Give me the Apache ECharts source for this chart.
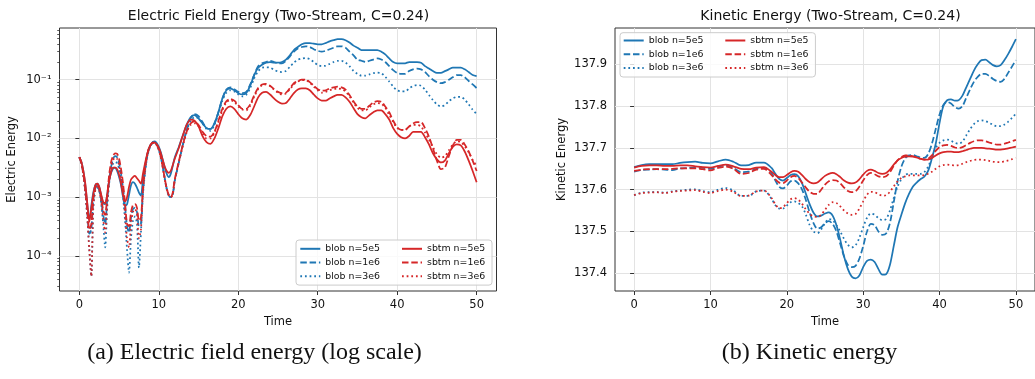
<!DOCTYPE html>
<html><head><meta charset="utf-8">
<script src="https://cdn.jsdelivr.net/npm/echarts@6/dist/echarts.min.js"></script>
<style>html,body{margin:0;padding:0;background:#fff}#c{width:1035px;height:379px}</style>
</head><body><div id="c"></div>
<script>
// ---------- Electric field energy (log scale) ----------
const timeE = [0,0.25,0.5,0.75,1,1.25,1.5,1.75,2,2.25,2.5,2.75,3,3.25,3.5,3.75,4,4.25,4.5,4.75,5,5.25,5.5,5.75,6,6.25,6.5,6.75,7,7.25,7.5,7.75,8,8.25,8.5,8.75,9,9.25,9.5,9.75,10,10.25,10.5,10.75,11,11.25,11.5,11.75,12,
12.5,13,13.5,14,14.5,15,15.5,16,16.5,17,17.5,18,18.5,19,19.5,20,20.5,21,21.5,22,22.5,23,23.5,24,24.5,25,25.5,26,26.5,27,27.5,28,28.5,29,29.5,30,30.5,31,31.5,32,32.5,33,33.5,34,34.5,35,35.5,36,36.5,37,37.5,38,38.5,39,39.5,40,40.5,41,41.5,42,42.5,43,43.5,44,44.5,45,45.5,46,46.5,47,47.5,48,48.5,49,49.5,50];

const blob5e5E = [4.8e-3,4.0e-3,2.8e-3,1.6e-3,7.6e-4,4.0e-4,7.1e-4,1.2e-3,1.6e-3,1.7e-3,1.5e-3,1.07e-3,7.9e-4,7.6e-4,1.1e-3,1.9e-3,2.6e-3,3.1e-3,3.2e-3,2.8e-3,2.2e-3,1.6e-3,1.0e-3,7.1e-4,7.6e-4,1.1e-3,1.6e-3,1.8e-3,1.7e-3,1.45e-3,1.2e-3,1.07e-3,2.0e-3,3.3e-3,5.0e-3,6.6e-3,7.9e-3,8.7e-3,8.9e-3,8.3e-3,7.2e-3,5.8e-3,4.3e-3,3.2e-3,2.5e-3,2.2e-3,2.5e-3,3.4e-3,4.7e-3,
7.1e-3,1.1e-2,1.7e-2,2.3e-2,2.5e-2,2.2e-2,1.8e-2,1.5e-2,1.45e-2,1.8e-2,2.8e-2,4.8e-2,6.6e-2,7.1e-2,6.6e-2,5.9e-2,5.6e-2,5.9e-2,7.9e-2,0.12,0.16,0.18,0.195,0.2,0.195,0.195,0.2,0.22,0.26,0.32,0.36,0.40,0.42,0.42,0.41,0.40,0.40,0.42,0.45,0.47,0.49,0.49,0.47,0.43,0.38,0.35,0.32,0.32,0.32,0.32,0.32,0.30,0.27,0.23,0.20,0.19,0.19,0.19,0.20,0.20,0.20,0.195,0.17,0.155,0.14,0.13,0.13,0.14,0.15,0.16,0.16,0.16,0.15,0.135,0.12,0.115];

const blob1e6E = [4.8e-3,3.8e-3,2.5e-3,1.3e-3,5.6e-4,2.4e-4,2.8e-4,8.9e-4,1.4e-3,1.6e-3,1.3e-3,8.9e-4,5.0e-4,3.5e-4,8.9e-4,2.0e-3,3.3e-3,4.5e-3,5.0e-3,4.8e-3,3.8e-3,2.5e-3,1.4e-3,7.1e-4,3.2e-4,2.5e-4,4.5e-4,6.3e-4,6.6e-4,5.6e-4,3.2e-4,3.5e-4,1.3e-3,2.8e-3,4.8e-3,6.6e-3,7.9e-3,8.7e-3,8.7e-3,7.9e-3,6.6e-3,5.0e-3,3.3e-3,2.1e-3,1.4e-3,1.07e-3,1.0e-3,1.1e-3,1.9e-3,
3.8e-3,7.6e-3,1.4e-2,2.2e-2,2.6e-2,2.4e-2,1.9e-2,1.5e-2,1.45e-2,1.8e-2,2.8e-2,4.8e-2,6.8e-2,7.4e-2,6.9e-2,6.2e-2,5.9e-2,6.2e-2,8.3e-2,0.12,0.17,0.19,0.20,0.21,0.20,0.19,0.19,0.21,0.25,0.30,0.34,0.36,0.37,0.36,0.33,0.31,0.30,0.31,0.33,0.35,0.37,0.37,0.35,0.30,0.26,0.22,0.21,0.20,0.21,0.22,0.23,0.22,0.20,0.17,0.145,0.13,0.126,0.126,0.14,0.15,0.155,0.15,0.135,0.115,0.10,9.1e-2,8.7e-2,9.1e-2,0.10,0.11,0.12,0.12,0.11,9.5e-2,8.3e-2,7.2e-2];

const blob3e6E = [4.8e-3,3.8e-3,2.4e-3,1.2e-3,4.5e-4,1.3e-4,4.5e-5,6.3e-4,1.3e-3,1.45e-3,1.3e-3,7.9e-4,3.5e-4,1.4e-4,6.3e-4,1.7e-3,2.8e-3,3.7e-3,4.0e-3,3.8e-3,3.0e-3,1.9e-3,1.0e-3,4.0e-4,1.3e-4,5.2e-5,2.0e-4,4.0e-4,4.7e-4,3.5e-4,6.3e-5,2.5e-4,1.1e-3,2.5e-3,4.5e-3,6.3e-3,7.6e-3,8.3e-3,8.3e-3,7.6e-3,6.3e-3,4.8e-3,3.2e-3,2.0e-3,1.35e-3,1.07e-3,1.0e-3,1.1e-3,1.9e-3,
3.8e-3,7.6e-3,1.35e-2,2.0e-2,2.3e-2,2.2e-2,1.8e-2,1.45e-2,1.35e-2,1.7e-2,2.6e-2,4.4e-2,6.0e-2,6.6e-2,6.3e-2,5.6e-2,5.2e-2,5.5e-2,7.2e-2,0.105,0.14,0.16,0.162,0.16,0.148,0.138,0.135,0.141,0.166,0.195,0.219,0.229,0.234,0.224,0.2,0.178,0.17,0.174,0.186,0.2,0.209,0.209,0.195,0.17,0.141,0.126,0.117,0.117,0.123,0.129,0.132,0.129,0.112,9.3e-2,7.6e-2,6.6e-2,6.3e-2,6.3e-2,7.1e-2,7.8e-2,8.1e-2,7.9e-2,6.8e-2,5.5e-2,4.5e-2,3.8e-2,3.5e-2,3.7e-2,4.3e-2,4.8e-2,5.1e-2,5.1e-2,4.6e-2,3.8e-2,3.1e-2,2.6e-2];

const sbtm5e5E = [4.8e-3,4.0e-3,2.8e-3,1.7e-3,7.9e-4,3.8e-4,6.3e-4,1.1e-3,1.6e-3,1.7e-3,1.5e-3,1.1e-3,8.3e-4,7.9e-4,1.1e-3,1.9e-3,2.7e-3,3.2e-3,3.2e-3,3.0e-3,2.4e-3,1.7e-3,1.1e-3,8.5e-4,1.0e-3,1.5e-3,2.0e-3,2.2e-3,2.3e-3,2.1e-3,1.9e-3,1.7e-3,2.5e-3,3.7e-3,5.2e-3,6.8e-3,7.9e-3,8.5e-3,8.5e-3,7.9e-3,6.9e-3,5.6e-3,4.3e-3,3.3e-3,2.8e-3,2.6e-3,2.8e-3,3.5e-3,4.5e-3,
6.8e-3,1.1e-2,1.7e-2,2.1e-2,2.0e-2,1.6e-2,1.1e-2,8.7e-3,8.1e-3,1.0e-2,1.5e-2,2.4e-2,3.2e-2,3.5e-2,3.2e-2,2.6e-2,2.2e-2,2.1e-2,2.5e-2,3.5e-2,5.0e-2,6.0e-2,6.2e-2,5.6e-2,4.8e-2,4.2e-2,3.9e-2,4.0e-2,4.8e-2,5.9e-2,6.8e-2,7.1e-2,7.1e-2,6.6e-2,5.6e-2,4.8e-2,4.4e-2,4.4e-2,4.8e-2,5.2e-2,5.5e-2,5.5e-2,5.0e-2,4.2e-2,3.3e-2,2.6e-2,2.3e-2,2.2e-2,2.5e-2,2.8e-2,3.0e-2,3.0e-2,2.6e-2,2.1e-2,1.5e-2,1.2e-2,1.05e-2,1.0e-2,1.1e-2,1.3e-2,1.3e-2,1.3e-2,1.05e-2,7.9e-3,5.6e-3,4.4e-3,3.9e-3,4.2e-3,5.6e-3,7.2e-3,7.9e-3,7.6e-3,6.0e-3,4.2e-3,2.8e-3,1.8e-3];

const sbtm1e6E = [4.8e-3,3.8e-3,2.5e-3,1.35e-3,6.3e-4,2.8e-4,3.5e-4,9.5e-4,1.45e-3,1.7e-3,1.4e-3,1.0e-3,6.0e-4,5.0e-4,1.05e-3,2.4e-3,4.0e-3,5.1e-3,5.6e-3,5.5e-3,4.5e-3,3.0e-3,1.7e-3,7.9e-4,3.5e-4,3.2e-4,5.6e-4,7.4e-4,7.6e-4,6.6e-4,4.0e-4,4.5e-4,1.4e-3,3.0e-3,5.0e-3,6.8e-3,7.9e-3,8.5e-3,8.5e-3,7.8e-3,6.5e-3,4.9e-3,3.2e-3,2.1e-3,1.4e-3,1.1e-3,1.0e-3,1.2e-3,2.0e-3,
4.0e-3,7.6e-3,1.3e-2,1.8e-2,1.95e-2,1.7e-2,1.3e-2,1.1e-2,1.07e-2,1.3e-2,2.0e-2,3.2e-2,4.3e-2,4.7e-2,4.4e-2,3.7e-2,3.2e-2,3.2e-2,3.8e-2,5.4e-2,7.2e-2,8.3e-2,8.5e-2,7.9e-2,6.9e-2,6.2e-2,5.9e-2,6.0e-2,7.2e-2,8.7e-2,9.5e-2,0.10,0.10,9.1e-2,7.9e-2,6.9e-2,6.5e-2,6.6e-2,7.1e-2,7.4e-2,7.6e-2,7.4e-2,6.8e-2,5.5e-2,4.3e-2,3.5e-2,3.2e-2,3.2e-2,3.6e-2,4.1e-2,4.3e-2,4.2e-2,3.5e-2,2.8e-2,2.0e-2,1.55e-2,1.4e-2,1.4e-2,1.6e-2,1.8e-2,1.9e-2,1.9e-2,1.5e-2,1.07e-2,6.8e-3,4.2e-3,3.0e-3,3.2e-3,5.0e-3,7.6e-3,9.5e-3,9.5e-3,7.9e-3,6.0e-3,4.2e-3,2.8e-3];

const sbtm3e6E = [4.8e-3,3.8e-3,2.4e-3,1.2e-3,4.5e-4,1.3e-4,4.5e-5,7.1e-4,1.3e-3,1.5e-3,1.3e-3,8.3e-4,4.2e-4,2.5e-4,7.9e-4,2.0e-3,3.3e-3,4.3e-3,4.7e-3,4.5e-3,3.5e-3,2.2e-3,1.2e-3,5.0e-4,2.0e-4,1.4e-4,3.5e-4,5.6e-4,6.3e-4,5.0e-4,2.0e-4,2.8e-4,1.2e-3,2.7e-3,4.7e-3,6.5e-3,7.8e-3,8.3e-3,8.3e-3,7.6e-3,6.3e-3,4.8e-3,3.2e-3,2.0e-3,1.4e-3,1.07e-3,1.0e-3,1.1e-3,1.9e-3,
3.8e-3,7.2e-3,1.26e-2,1.7e-2,1.8e-2,1.6e-2,1.2e-2,1.0e-2,1.0e-2,1.26e-2,1.9e-2,3.0e-2,4.1e-2,4.5e-2,4.2e-2,3.5e-2,3.1e-2,3.0e-2,3.6e-2,5.1e-2,6.9e-2,8.1e-2,8.3e-2,7.8e-2,6.8e-2,6.0e-2,5.6e-2,5.8e-2,6.9e-2,8.3e-2,9.3e-2,9.8e-2,9.8e-2,8.9e-2,7.6e-2,6.6e-2,6.0e-2,6.2e-2,6.6e-2,6.9e-2,7.1e-2,6.9e-2,6.3e-2,5.2e-2,4.1e-2,3.3e-2,3.0e-2,3.0e-2,3.4e-2,3.8e-2,4.0e-2,3.9e-2,3.3e-2,2.5e-2,1.9e-2,1.5e-2,1.4e-2,1.4e-2,1.6e-2,1.7e-2,1.7e-2,1.6e-2,1.26e-2,9.5e-3,7.1e-3,5.4e-3,4.7e-3,5.0e-3,6.3e-3,7.9e-3,8.9e-3,8.7e-3,7.4e-3,5.8e-3,4.3e-3,3.4e-3];

// ---------- Kinetic energy ----------
const timeK = [0,1,2,3,4,5,6,7,8,9,10,11,12,13,14,15,16,17,18,
18.5,19,19.5,20,20.5,21,21.5,22,22.5,23,23.5,24,24.5,25,25.5,26,26.5,27,27.5,28,28.5,29,29.5,30,30.5,31,31.5,32,32.5,33,33.5,34,34.5,35,35.5,36,36.5,37,37.5,38,38.5,39,39.5,40,40.5,41,41.5,42,42.5,43,43.5,44,44.5,45,45.5,46,46.5,47,47.5,48,48.5,49,49.5,50];

const blob5e5K = [137.654,137.659,137.661,137.661,137.661,137.661,137.664,137.666,137.667,137.664,137.663,137.668,137.672,137.667,137.658,137.659,137.665,137.665,137.652,
137.638,137.626,137.622,137.628,137.635,137.637,137.632,137.615,137.59,137.565,137.545,137.536,137.538,137.543,137.546,137.538,137.515,137.48,137.44,137.41,137.392,137.388,137.395,137.415,137.43,137.433,137.427,137.41,137.397,137.398,137.42,137.465,137.51,137.54,137.568,137.59,137.607,137.617,137.625,137.631,137.645,137.675,137.71,137.76,137.8,137.814,137.816,137.813,137.814,137.825,137.845,137.865,137.885,137.9,137.91,137.911,137.905,137.898,137.895,137.898,137.91,137.925,137.942,137.96];

const blob1e6K = [137.643,137.647,137.648,137.649,137.648,137.647,137.651,137.652,137.653,137.652,137.65,137.655,137.658,137.652,137.642,137.643,137.65,137.652,137.64,
137.622,137.607,137.603,137.61,137.62,137.622,137.615,137.6,137.575,137.545,137.52,137.507,137.51,137.52,137.525,137.518,137.5,137.47,137.44,137.42,137.415,137.418,137.435,137.465,137.5,137.518,137.515,137.5,137.492,137.495,137.52,137.57,137.62,137.655,137.675,137.682,137.683,137.68,137.677,137.676,137.685,137.71,137.745,137.78,137.803,137.81,137.806,137.798,137.794,137.8,137.82,137.84,137.858,137.87,137.877,137.877,137.872,137.865,137.86,137.858,137.865,137.88,137.895,137.91];

const blob3e6K = [137.587,137.593,137.594,137.594,137.593,137.596,137.598,137.6,137.601,137.597,137.594,137.6,137.604,137.598,137.585,137.585,137.596,137.598,137.578,
137.563,137.555,137.555,137.562,137.57,137.572,137.568,137.56,137.54,137.515,137.5,137.496,137.505,137.52,137.53,137.527,137.515,137.5,137.482,137.468,137.462,137.467,137.485,137.51,137.533,137.543,137.54,137.532,137.527,137.53,137.55,137.58,137.607,137.625,137.635,137.638,137.638,137.638,137.638,137.642,137.655,137.678,137.7,137.712,137.718,137.72,137.717,137.712,137.71,137.715,137.73,137.745,137.757,137.764,137.766,137.764,137.76,137.755,137.752,137.752,137.756,137.763,137.772,137.782];

const sbtm5e5K = [137.653,137.657,137.658,137.658,137.657,137.657,137.658,137.658,137.656,137.654,137.653,137.657,137.66,137.656,137.65,137.649,137.653,137.654,137.643,
137.635,137.63,137.63,137.635,137.642,137.645,137.643,137.635,137.625,137.618,137.615,137.617,137.625,137.633,137.638,137.64,137.637,137.63,137.622,137.617,137.615,137.617,137.625,137.636,137.645,137.648,137.645,137.64,137.638,137.64,137.648,137.66,137.67,137.676,137.679,137.68,137.679,137.677,137.674,137.672,137.672,137.676,137.682,137.687,137.69,137.691,137.691,137.69,137.69,137.692,137.695,137.698,137.7,137.7,137.7,137.699,137.698,137.697,137.696,137.696,137.697,137.699,137.701,137.703];

const sbtm1e6K = [137.645,137.648,137.649,137.649,137.649,137.65,137.651,137.651,137.651,137.649,137.646,137.652,137.655,137.65,137.638,137.64,137.648,137.65,137.635,
137.625,137.617,137.616,137.622,137.63,137.633,137.628,137.617,137.605,137.595,137.59,137.59,137.6,137.612,137.62,137.623,137.622,137.615,137.605,137.597,137.594,137.596,137.607,137.622,137.635,137.64,137.637,137.632,137.63,137.632,137.642,137.657,137.67,137.678,137.682,137.682,137.68,137.677,137.674,137.672,137.674,137.682,137.693,137.702,137.706,137.707,137.705,137.701,137.7,137.702,137.707,137.712,137.716,137.718,137.718,137.716,137.713,137.71,137.708,137.708,137.71,137.713,137.716,137.719];

const sbtm3e6K = [137.587,137.592,137.593,137.594,137.592,137.595,137.597,137.598,137.599,137.595,137.592,137.597,137.6,137.595,137.585,137.586,137.596,137.598,137.58,
137.565,137.556,137.558,137.568,137.577,137.58,137.576,137.566,137.553,137.542,137.536,137.535,137.54,137.552,137.564,137.57,137.568,137.56,137.55,137.543,137.54,137.542,137.555,137.572,137.588,137.595,137.594,137.589,137.586,137.587,137.595,137.608,137.62,137.628,137.632,137.634,137.634,137.634,137.634,137.635,137.638,137.643,137.65,137.656,137.659,137.66,137.659,137.658,137.659,137.662,137.666,137.669,137.671,137.672,137.672,137.671,137.669,137.667,137.666,137.666,137.668,137.67,137.673,137.676];

// ---------- ticks / labels ----------
const xTicks = [0, 10, 20, 30, 40, 50];
const eTicks = [1e-4, 1e-3, 1e-2, 1e-1];
const eMinorTicks = [3e-5,4e-5,5e-5,6e-5,7e-5,8e-5,9e-5,2e-4,3e-4,4e-4,5e-4,6e-4,7e-4,8e-4,9e-4,2e-3,3e-3,4e-3,5e-3,6e-3,7e-3,8e-3,9e-3,2e-2,3e-2,4e-2,5e-2,6e-2,7e-2,8e-2,9e-2,0.2,0.3,0.4,0.5,0.6,0.7];
const kTicks = [137.4, 137.5, 137.6, 137.7, 137.8, 137.9];
const seriesNames = ['blob n=5e5','blob n=1e6','blob n=3e6','sbtm n=5e5','sbtm n=1e6','sbtm n=3e6'];
const titles = ['Electric Field Energy (Two-Stream, C=0.24)', 'Kinetic Energy (Two-Stream, C=0.24)'];
const captions = ['(a) Electric field energy (log scale)', '(b) Kinetic energy'];

// ---------- chart ----------
const FONT = 'DejaVu Sans';
const BLUE = '#1f77b4', RED = '#d62728';
const lineTypes = ['solid', [6.5, 2.8], [1.75, 2.9]];
const colors = [BLUE, BLUE, BLUE, RED, RED, RED];
const typesFor = [0, 1, 2, 0, 1, 2];
const eData = [blob5e5E, blob1e6E, blob3e6E, sbtm5e5E, sbtm1e6E, sbtm3e6E];
const kData = [blob5e5K, blob1e6K, blob3e6K, sbtm5e5K, sbtm1e6K, sbtm3e6K];
const pairs = (t, v) => t.map((x, i) => [x, v[i]]);

const SUP = {'-':'\u207b','0':'\u2070','1':'\u00b9','2':'\u00b2','3':'\u00b3','4':'\u2074','5':'\u2075','6':'\u2076','7':'\u2077','8':'\u2078','9':'\u2079'};
const supFmt = v => '10' + String(Math.round(Math.log10(v))).split('').map(c => SUP[c]).join('');

const frame = '#333333';
const gridLine = { show: true, lineStyle: { color: '#e3e3e3', width: 1 } };
const tickLbl = { fontFamily: FONT, fontSize: 11.5, color: '#111', margin: 8 };
const nameStyle = { fontFamily: FONT, fontSize: 11.5, color: '#111' };

function xAxisFor(gi) {
  return {
    type: 'value', gridIndex: gi, min: -2.5, max: 52.5,
    name: 'Time', nameLocation: 'middle', nameGap: 24, nameTextStyle: nameStyle,
    axisLine: { show: false },
    axisTick: { show: true, length: 4, customValues: xTicks, lineStyle: { color: frame, width: 1 } },
    axisLabel: Object.assign({ customValues: xTicks }, tickLbl),
    splitLine: gridLine
  };
}

const series = [];
seriesNames.forEach((n, i) => {
  series.push({
    name: n, type: 'line', xAxisIndex: 0, yAxisIndex: 0,
    data: pairs(timeE, eData[i]), showSymbol: false, symbol: 'none', smooth: 0.25,
    lineStyle: { color: colors[i], width: 1.75, type: lineTypes[typesFor[i]] },
    itemStyle: { color: colors[i] }, silent: true
  });
});
seriesNames.forEach((n, i) => {
  series.push({
    name: n, type: 'line', xAxisIndex: 1, yAxisIndex: 2,
    data: pairs(timeK, kData[i]), showSymbol: false, symbol: 'none', smooth: 0.3,
    lineStyle: { color: colors[i], width: 1.75, type: lineTypes[typesFor[i]] },
    itemStyle: { color: colors[i] }, silent: true
  });
});

const legendBase = {
  orient: 'vertical', itemGap: 4.7, itemWidth: 20, itemHeight: 9,
  textStyle: { fontFamily: FONT, fontSize: 9.4, color: '#111' },
  itemStyle: { opacity: 0 }, selectedMode: false
};
const boxStyle = { backgroundColor: 'rgba(255,255,255,0.8)', borderColor: '#cccccc', borderWidth: 1, borderRadius: 3 };

const titleStyle = { fontFamily: FONT, fontSize: 14, fontWeight: 'normal', color: '#111' };
const capStyle = { fontFamily: 'Liberation Serif', fontSize: 24, fontWeight: 'normal', color: '#111' };

const option = {
  animation: false,
  backgroundColor: '#ffffff',
  title: [
    { text: titles[0], left: 278.5, top: 16, textAlign: 'center', textVerticalAlign: 'middle', padding: 0, textStyle: titleStyle },
    { text: titles[1], left: 830.5, top: 16, textAlign: 'center', textVerticalAlign: 'middle', padding: 0, textStyle: titleStyle },
    { text: captions[0], left: 254.5, top: 353, textAlign: 'center', textVerticalAlign: 'middle', padding: 0, textStyle: capStyle },
    { text: captions[1], left: 809.5, top: 353, textAlign: 'center', textVerticalAlign: 'middle', padding: 0, textStyle: capStyle }
  ],
  grid: [
    { left: 59.5, top: 28, width: 437, height: 263, show: true, borderColor: frame, borderWidth: 1, backgroundColor: 'transparent' },
    { left: 615, top: 28, width: 431.6, height: 263, show: true, borderColor: frame, borderWidth: 1, backgroundColor: 'transparent' }
  ],
  xAxis: [xAxisFor(0), xAxisFor(1)],
  yAxis: [
    {
      type: 'log', logBase: 10, gridIndex: 0, min: 2.537e-5, max: 0.758, position: 'left',
      name: 'Electric Energy', nameLocation: 'middle', nameGap: 41, nameTextStyle: nameStyle,
      axisLine: { show: false },
      axisTick: { show: true, length: 4, customValues: eTicks, lineStyle: { color: frame, width: 1 } },
      axisLabel: Object.assign({ customValues: eTicks, formatter: supFmt }, tickLbl),
      splitLine: gridLine
    },
    {
      type: 'log', logBase: 10, gridIndex: 0, min: 2.537e-5, max: 0.758, position: 'left',
      axisLine: { show: false }, axisLabel: { show: false }, splitLine: { show: false },
      axisTick: { show: true, length: 2.3, customValues: eMinorTicks, lineStyle: { color: frame, width: 0.8 } }
    },
    {
      type: 'value', gridIndex: 1, min: 137.3577, max: 137.9868, position: 'left',
      name: 'Kinetic Energy', nameLocation: 'middle', nameGap: 47, nameTextStyle: nameStyle,
      axisLine: { show: false },
      axisTick: { show: true, length: 4, customValues: kTicks, lineStyle: { color: frame, width: 1 } },
      axisLabel: Object.assign({ customValues: kTicks, formatter: v => v.toFixed(1) }, tickLbl),
      splitLine: gridLine
    }
  ],
  legend: [
    Object.assign({ data: seriesNames.slice(0, 3), left: 296, top: 240, padding: [4.3, 112, 4.4, 3.3] }, legendBase, boxStyle),
    Object.assign({ data: seriesNames.slice(3), left: 401, top: 244.3, padding: 0 }, legendBase),
    Object.assign({ data: seriesNames.slice(0, 3), left: 620, top: 32.7, padding: [3.3, 112, 4.6, 2.7] }, legendBase, boxStyle),
    Object.assign({ data: seriesNames.slice(3), left: 724.3, top: 36, padding: 0 }, legendBase)
  ],
  series: series
};

const chart = echarts.init(document.getElementById('c'), null, { renderer: 'canvas' });
chart.setOption(option);
</script>
</body></html>
